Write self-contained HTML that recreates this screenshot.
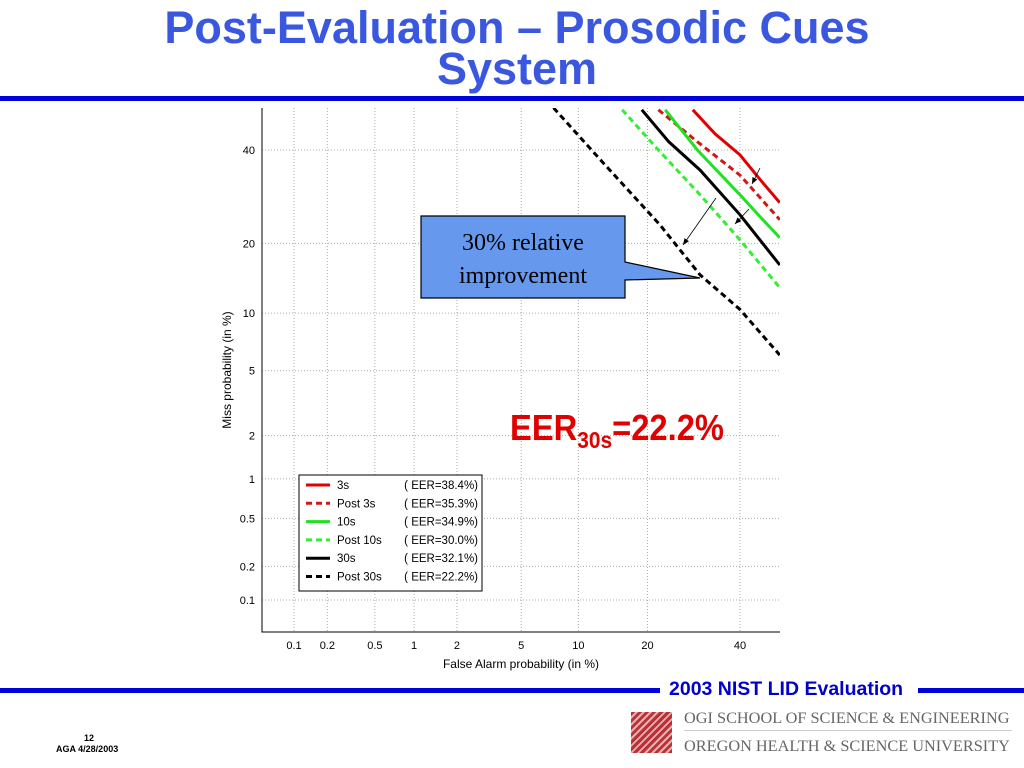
<!DOCTYPE html>
<html><head><meta charset="utf-8"><style>
body{margin:0;width:1024px;height:768px;background:#fff;overflow:hidden;font-family:"Liberation Sans",sans-serif;position:relative}
.t{position:absolute;left:0;width:1034px;text-align:center;color:#3a57e0;font-weight:bold;font-size:45px;line-height:41px}
</style></head><body>
<div class="t" style="top:7px">Post-Evaluation – Prosodic Cues<br>System</div>
<div style="position:absolute;left:0;top:96px;width:1024px;height:5px;background:#0000dd"></div>
<svg id="c" width="1024" height="768" style="position:absolute;left:0;top:0" font-family="Liberation Sans, sans-serif"></svg>
<div style="position:absolute;left:0;top:688px;width:660px;height:5px;background:#0000dd"></div>
<div style="position:absolute;left:918px;top:688px;width:106px;height:5px;background:#0000dd"></div>
<div style="position:absolute;left:669px;top:678px;font-size:19.5px;font-weight:bold;color:#0000cc">2003 NIST LID Evaluation</div>
<div style="position:absolute;left:631px;top:712px;width:41px;height:41px;background:repeating-linear-gradient(135deg,#b8323a 0 3px,#e8b0b0 3px 5px)"></div>
<div style="position:absolute;left:684px;top:708px;font-family:'Liberation Serif',serif;font-size:16.3px;color:#666">OGI SCHOOL OF SCIENCE &amp; ENGINEERING</div>
<div style="position:absolute;left:684px;top:730px;width:328px;height:1px;background:#ccc"></div>
<div style="position:absolute;left:684px;top:736px;font-family:'Liberation Serif',serif;font-size:16.3px;color:#666">OREGON HEALTH &amp; SCIENCE UNIVERSITY</div>
<div style="position:absolute;left:84px;top:733px;font-size:9px;font-weight:bold">12</div>
<div style="position:absolute;left:56px;top:744px;font-size:9px;font-weight:bold">AGA 4/28/2003</div>
<script>
const xTicks=[0.1,0.2,0.5,1,2,5,10,20,40];
const yTicks=[0.1,0.2,0.5,1,2,5,10,20,40];
const seriesNames=["3s","Post 3s","10s","Post 10s","30s","Post 30s"];
const seriesEER=["38.4","35.3","34.9","30.0","32.1","22.2"];
const fa3=[29,34,40,45,50];const miss3=[50,44,38.8,33,27.9];
const faP3=[22,30,40,45,50];const missP3=[50,42,34,29,24.4];
const fa10=[23.3,30,40,45,50];const miss10=[50,40,29.6,25,21];
const faP10=[15.8,22,30.6,40,50];const missP10=[50,40,29.6,20.6,13.1];
const fa30=[19,24,30.6,40,50];const miss30=[50,42,35.2,25.4,16.4];
const faP30=[7.5,12.7,22.3,30.6,40,50];const missP30=[50.5,37.6,23.4,14.9,10.4,6.1];
const colors=["#e00000","#d01818","#22e022","#33ee33","#000","#000"];
const dashed=[false,true,false,true,false,true];
const series=[[fa3,miss3],[faP3,missP3],[fa10,miss10],[faP10,missP10],[fa30,miss30],[faP30,missP30]];
function ninv(p){
 const a=[-39.6968302866538,220.946098424521,-275.928510446969,138.357751867269,-30.6647980661472,2.50662827745924],
 b=[-54.4760987982241,161.585836858041,-155.698979859887,66.8013118877197,-13.2806815528857],
 c=[-0.00778489400243029,-0.322396458041136,-2.40075827716184,-2.54973253934373,4.37466414146497,2.93816398269878],
 d=[0.00778469570904146,0.32246712907004,2.445134137143,3.75440866190742];
 if(p<0.02425){const q=Math.sqrt(-2*Math.log(p));return (((((c[0]*q+c[1])*q+c[2])*q+c[3])*q+c[4])*q+c[5])/((((d[0]*q+d[1])*q+d[2])*q+d[3])*q+1);}
 if(p>1-0.02425){return -ninv(1-p);}
 const q=p-0.5,r=q*q;return (((((a[0]*r+a[1])*r+a[2])*r+a[3])*r+a[4])*r+a[5])*q/(((((b[0]*r+b[1])*r+b[2])*r+b[3])*r+b[4])*r+1);}
const zx0=ninv(0.001),zx1=ninv(0.4);
function X(v){return 294+(ninv(v/100)-zx0)*(740-294)/(zx1-zx0);}
function Y(v){return 600-(ninv(v/100)-zx0)*(600-150)/(zx1-zx0);}
const svg=document.getElementById('c');const NS='http://www.w3.org/2000/svg';
function el(t,a,p){const e=document.createElementNS(NS,t);for(const k in a)e.setAttribute(k,a[k]);(p||svg).appendChild(e);return e;}
const L=262,R=780,T=108,B=632;
el('rect',{x:L,y:T,width:R-L,height:B-T,fill:'#fff'});
const clip=el('clipPath',{id:'pc'});el('rect',{x:L,y:T,width:R-L,height:B-T},clip);
xTicks.forEach(v=>{const x=X(v);
 const g=el('line',{x1:x,x2:x,y1:T,y2:B,stroke:'#aaa','stroke-dasharray':'1,2','stroke-width':1});
 
 const t=el('text',{x:x,y:B+17,'font-size':11,'text-anchor':'middle'});t.textContent=v;
 });
yTicks.forEach(v=>{const y=Y(v);
 const g=el('line',{x1:L,x2:R,y1:y,y2:y,stroke:'#aaa','stroke-dasharray':'1,2','stroke-width':1});
 
 const t=el('text',{x:255,y:y+4,'font-size':11,'text-anchor':'end'});t.textContent=v;
 });
const ax=el('path',{d:`M${L},${T}V${B}H${R}`,fill:'none',stroke:'#000','stroke-width':1});

series.forEach((s,i)=>{const d=s[0].map((f,j)=>(j?'L':'M')+X(f).toFixed(1)+','+Y(s[1][j]).toFixed(1)).join('');
 const p=el('path',{d:d,fill:'none',stroke:colors[i],'stroke-width':3,'clip-path':'url(#pc)','stroke-dasharray':dashed[i]?'6,4':'none'});
 });
const xl=el('text',{x:521,y:668,'font-size':12,'text-anchor':'middle'});xl.textContent='False Alarm probability (in %)';

const yl=el('text',{x:0,y:0,'font-size':12,'text-anchor':'middle',transform:'translate(231,370) rotate(-90)'});yl.textContent='Miss probability (in %)';

const lg=el('rect',{x:299,y:475,width:183,height:116,fill:'#fff',stroke:'#000'});

seriesNames.forEach((n,i)=>{const y=488+i*18.3;
 const l=el('line',{x1:306,x2:330,y1:y-3,y2:y-3,stroke:colors[i],'stroke-width':3,'stroke-dasharray':dashed[i]?'6,4':'none'});
 
 const t=el('text',{x:337,y:y+1,'font-size':11.5});t.textContent=n;
 
 const e=el('text',{x:478,y:y+1,'font-size':11.5,'text-anchor':'end'});e.textContent='( EER='+seriesEER[i]+'%)';
 });
const cb=el('path',{d:'M421,216H625V262L700,278L625,280V298H421Z',fill:'#6699ee',stroke:'#000','stroke-width':1.2});

const ct=el('text',{x:523,y:250,'font-size':24,'text-anchor':'middle','font-family':'Liberation Serif, serif'});ct.textContent='30% relative';

const ct2=el('text',{x:523,y:283,'font-size':24,'text-anchor':'middle','font-family':'Liberation Serif, serif'});ct2.textContent='improvement';

[[716,198,683,245],[749,209,735,224],[760,168,752,184]].forEach(a=>{
 const l=el('line',{x1:a[0],y1:a[1],x2:a[2],y2:a[3],stroke:'#000','stroke-width':0.8});
 
 const ang=Math.atan2(a[3]-a[1],a[2]-a[0]);const h=7;
 el('path',{d:`M${a[2]},${a[3]}L${a[2]-h*Math.cos(ang-0.4)},${a[3]-h*Math.sin(ang-0.4)}L${a[2]-h*Math.cos(ang+0.4)},${a[3]-h*Math.sin(ang+0.4)}Z`,fill:'#000'});});
const eer=el('text',{x:510,y:440,'font-size':36,fill:'#e00000','font-weight':'bold'});

eer.innerHTML='EER<tspan font-size="23" dy="8">30s</tspan><tspan dy="-8">=22.2%</tspan>';
eer.setAttribute('textLength','214');eer.setAttribute('lengthAdjust','spacingAndGlyphs');
</script>
</body></html>
